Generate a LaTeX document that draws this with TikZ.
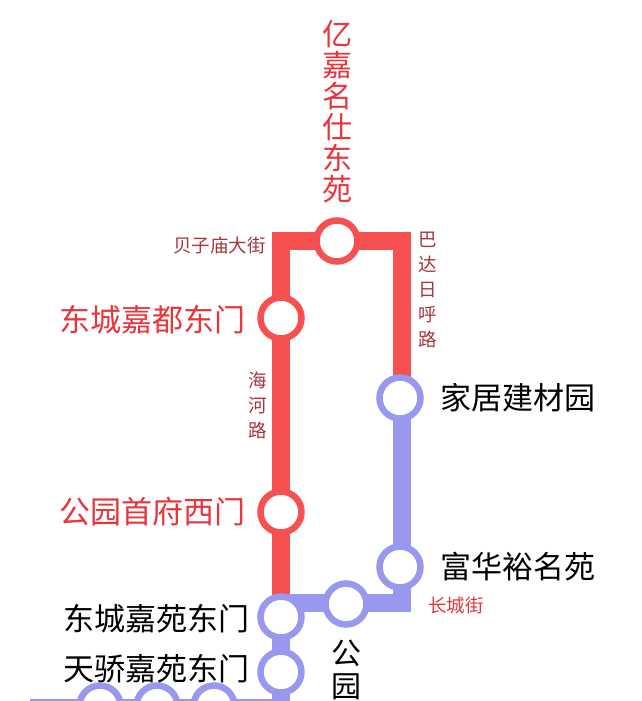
\documentclass[tikz,border=0pt]{standalone}
\usepackage{fontspec}
\setmainfont{Noto Sans CJK SC}
\begin{document}
\begin{tikzpicture}[x=1pt,y=-1pt,
  st/.style={circle,draw=#1,line width=6.5pt,fill=white,minimum size=41pt,inner sep=0pt},
  big/.style={font=\fontsize{31}{31}\selectfont,inner sep=0pt},
  sm/.style={font=\fontsize{18.5}{18.5}\selectfont,inner sep=0pt,text=streetred},
  vsm/.style={sm,align=center,font=\fontsize{18.5}{25}\selectfont}]
\definecolor{lred}{HTML}{F75050}
\definecolor{lblue}{HTML}{9898EE}
\definecolor{tred}{HTML}{E8353C}
\definecolor{streetred}{HTML}{A8343C}
\useasboundingbox (0,0) rectangle (641,701);
\coordinate (c1) at (281,241);
\coordinate (c2) at (402,241);
\coordinate (c3) at (402,603);
\coordinate (c4) at (281,603);
\coordinate (b0) at (30,701);
\coordinate (b1) at (281,701);
\draw[lred,line width=18pt] (281,603) -- (c1) -- (c2) -- (402,380);
\draw[lblue,line width=18pt] (402,380) -- (c3) -- (c4);
\draw[lblue,line width=18pt] (281,603) -- (b1);
\draw[lblue,line width=4pt] (b0) -- (b1);
\node[st=lred] (s1) at (337,241) {};
\node[st=lred] (s2) at (281,318) {};
\node[st=lred] (s3) at (281,512) {};
\node[st=lblue] (s4) at (400,398) {};
\node[st=lblue] (s5) at (400,567) {};
\node[st=lblue] (s6) at (281,617) {};
\node[st=lblue] (s7) at (346,604) {};
\node[st=lblue] (s8) at (281,672) {};
\node[st=lblue] (s9) at (100,706) {};
\node[st=lblue] (s10) at (157,706) {};
\node[st=lblue] (s11) at (214,706) {};
\node[big,text=tred,align=center,font=\fontsize{30}{31}\selectfont] (t1) at (337,112) {亿\\嘉\\名\\仕\\东\\苑};
\node[big,text=tred,anchor=east] (t2) at (246,320) {东城嘉都东门};
\node[big,text=tred,anchor=east] (t3) at (246,512) {公园首府西门};
\node[big,anchor=west] (t4) at (440,398) {家居建材园};
\node[big,anchor=west] (t5) at (440,567) {富华裕名苑};
\node[big,anchor=east] (t6) at (250,619) {东城嘉苑东门};
\node[big,anchor=east] (t7) at (250,669) {天骄嘉苑东门};
\node[big,align=center,font=\fontsize{30}{33}\selectfont,anchor=north] (t8) at (346,640) {公\\园};
\node[sm,anchor=east] (l1) at (266,245) {贝子庙大街};
\node[vsm,anchor=north] (l2) at (428,232) {巴\\达\\日\\呼\\路};
\node[vsm,anchor=north] (l3) at (258,372) {海\\河\\路};
\node[sm,text=tred,anchor=west] (l4) at (428,605) {长城街};
\end{tikzpicture}
\end{document}
